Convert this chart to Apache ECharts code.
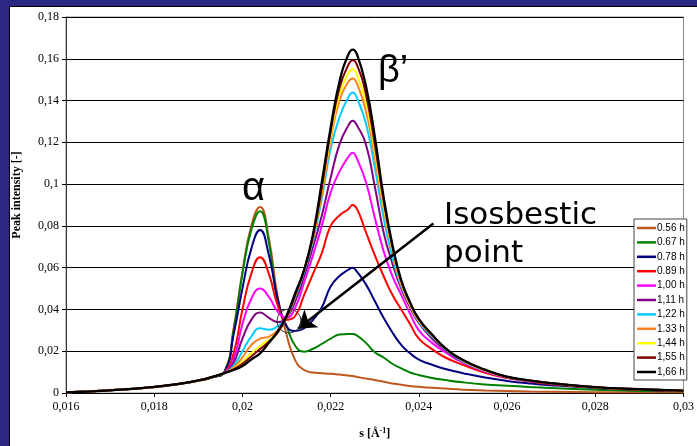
<!DOCTYPE html>
<html>
<head>
<meta charset="utf-8">
<script src="https://cdn.jsdelivr.net/npm/echarts@6.0.0/dist/echarts.min.js"></script>
<style>
  html, body { margin: 0; padding: 0; }
  body { width: 697px; height: 446px; background: #2b2783; position: relative; overflow: hidden; }
  #panel { position: absolute; left: 9px; top: 6px; width: 700px; height: 450px; background: #fff; border: 1.5px solid #000; }
  #main { position: absolute; left: 0; top: 0; width: 697px; height: 446px; }
</style>
</head>
<body>
<div id="panel"></div>
<div id="main"></div>
<script>
  // s values [1/A]
  var sValues = [0.016, 0.017, 0.018, 0.0186, 0.019, 0.0193, 0.0196, 0.0198, 0.02, 0.0202,
    0.0204, 0.0206, 0.0208, 0.021, 0.0212, 0.0214, 0.0216, 0.0218, 0.022, 0.0222,
    0.0224, 0.0225, 0.0226, 0.0228, 0.023, 0.0232, 0.0234, 0.0236, 0.0238, 0.024,
    0.0243, 0.0246, 0.025, 0.0255, 0.026, 0.0265, 0.027, 0.028, 0.029, 0.03];

  var names = ['0.56 h', '0.67 h', '0.78 h', '0.89 h', '1,00 h', '1,11 h', '1,22 h', '1.33 h', '1,44 h', '1,55 h', '1,66 h'];
  var colors = ['#bf581e', '#008000', '#000080', '#ff0000', '#ff00ff', '#800080', '#00ccff', '#ff8020', '#ffff00', '#800000', '#000000'];

  var h056 = [0.0003, 0.0013, 0.0028, 0.0044, 0.0058, 0.0073, 0.0105, 0.031, 0.058, 0.080,
    0.089, 0.074, 0.046, 0.028, 0.0155, 0.011, 0.0098, 0.0095, 0.0092, 0.0088,
    0.0084, 0.0081, 0.0077, 0.0069, 0.0062, 0.0054, 0.0046, 0.0039, 0.0034, 0.003,
    0.0025, 0.0021, 0.0016, 0.0012, 0.0009, 0.0007, 0.0006, 0.0004, 0.0003, 0.0003];
  var h067 = [0.0003, 0.0013, 0.0029, 0.0045, 0.0059, 0.0074, 0.0104, 0.030, 0.057, 0.078,
    0.087, 0.072, 0.043, 0.032, 0.0225, 0.0198, 0.0212, 0.0235, 0.026, 0.028,
    0.0283, 0.0282, 0.0275, 0.024, 0.0195, 0.017, 0.014, 0.0118, 0.0098, 0.0086,
    0.0072, 0.0062, 0.0051, 0.0041, 0.0035, 0.0029, 0.0024, 0.0016, 0.001, 0.0008];
  var h078 = [0.0003, 0.0013, 0.0029, 0.0045, 0.006, 0.0075, 0.0103, 0.028, 0.050, 0.069,
    0.078, 0.066, 0.045, 0.032, 0.0297, 0.031, 0.035, 0.041, 0.051, 0.056,
    0.059, 0.060, 0.058, 0.052, 0.044, 0.036, 0.029, 0.023, 0.019, 0.016,
    0.0135, 0.0115, 0.0095, 0.0074, 0.0058, 0.0046, 0.0037, 0.0024, 0.0015, 0.001];
  var h089 = [0.0003, 0.0013, 0.0029, 0.0045, 0.006, 0.0076, 0.0101, 0.019, 0.040, 0.057,
    0.065, 0.057, 0.042, 0.035, 0.037, 0.047, 0.057, 0.067, 0.080, 0.085,
    0.088, 0.090, 0.088, 0.077, 0.066, 0.056, 0.047, 0.040, 0.033, 0.026,
    0.021, 0.017, 0.0135, 0.0097, 0.0072, 0.0056, 0.0043, 0.0026, 0.0016, 0.001];
  var h100 = [0.0003, 0.0013, 0.0029, 0.0045, 0.006, 0.0076, 0.0099, 0.016, 0.033, 0.045,
    0.050, 0.046, 0.039, 0.036, 0.041, 0.053, 0.066, 0.080, 0.096, 0.106,
    0.113, 0.115, 0.112, 0.101, 0.084, 0.068, 0.056, 0.047, 0.038, 0.030,
    0.024, 0.0195, 0.0145, 0.0102, 0.0074, 0.0058, 0.0046, 0.0028, 0.0018, 0.0011];
  var h111 = [0.0003, 0.0013, 0.0029, 0.0045, 0.006, 0.0076, 0.0098, 0.0145, 0.026, 0.035,
    0.0385, 0.036, 0.034, 0.036, 0.044, 0.056, 0.070, 0.085, 0.103, 0.119,
    0.128, 0.1303, 0.128, 0.119, 0.099, 0.077, 0.062, 0.050, 0.041, 0.0335,
    0.026, 0.0205, 0.015, 0.0105, 0.0075, 0.0059, 0.0046, 0.0028, 0.0018, 0.0011];
  var h122 = [0.0003, 0.0013, 0.0029, 0.0045, 0.006, 0.0076, 0.0097, 0.013, 0.020, 0.027,
    0.031, 0.0303, 0.032, 0.036, 0.046, 0.058, 0.073, 0.093, 0.117, 0.132,
    0.1415, 0.1438, 0.141, 0.129, 0.108, 0.084, 0.065, 0.051, 0.042, 0.034,
    0.027, 0.021, 0.0152, 0.0107, 0.0076, 0.006, 0.0047, 0.0028, 0.0018, 0.0011];
  var h133 = [0.0003, 0.0013, 0.0029, 0.0045, 0.006, 0.0076, 0.0096, 0.0122, 0.017, 0.023,
    0.026, 0.027, 0.030, 0.036, 0.047, 0.059, 0.074, 0.095, 0.121, 0.140,
    0.149, 0.1506, 0.148, 0.135, 0.113, 0.088, 0.068, 0.052, 0.042, 0.0345,
    0.0275, 0.0212, 0.0155, 0.0108, 0.0077, 0.006, 0.0047, 0.0028, 0.0018, 0.0011];
  var h144 = [0.0003, 0.0013, 0.0029, 0.0045, 0.006, 0.0076, 0.0096, 0.0117, 0.015, 0.019,
    0.0225, 0.0255, 0.029, 0.036, 0.047, 0.059, 0.075, 0.097, 0.123, 0.143,
    0.153, 0.155, 0.152, 0.139, 0.116, 0.090, 0.069, 0.053, 0.0425, 0.035,
    0.0277, 0.0213, 0.0155, 0.0108, 0.0077, 0.006, 0.0047, 0.0028, 0.0018, 0.0011];
  var h155 = [0.0003, 0.0013, 0.0029, 0.0045, 0.006, 0.0076, 0.0096, 0.0114, 0.014, 0.0175,
    0.021, 0.0245, 0.029, 0.036, 0.047, 0.059, 0.075, 0.098, 0.125, 0.146,
    0.157, 0.1593, 0.157, 0.143, 0.119, 0.092, 0.070, 0.0535, 0.043, 0.0352,
    0.0278, 0.0214, 0.0157, 0.011, 0.0077, 0.006, 0.0047, 0.0028, 0.0018, 0.0011];
  var h166 = [0.0003, 0.0013, 0.0029, 0.0045, 0.006, 0.0076, 0.0096, 0.011, 0.0129, 0.016,
    0.019, 0.024, 0.0295, 0.037, 0.048, 0.059, 0.076, 0.101, 0.127, 0.149,
    0.162, 0.1644, 0.162, 0.147, 0.123, 0.094, 0.071, 0.054, 0.0435, 0.0355,
    0.028, 0.0215, 0.0158, 0.0112, 0.0078, 0.006, 0.0047, 0.0028, 0.0018, 0.0011];

  var seriesValues = [h056, h067, h078, h089, h100, h111, h122, h133, h144, h155, h166];

  // arrow of the "Isosbestic point" note, in data units
  var arrowFrom = [0.02433, 0.0811];
  var arrowTo = [0.02126, 0.0308];

  function commaNum(v) {
    return String(+v.toFixed(3)).replace('.', ',');
  }

  var chart = echarts.init(document.getElementById('main'));

  var series = seriesValues.map(function (vals, i) {
    var s = {
      name: names[i],
      type: 'line',
      smooth: 0.5,
      symbol: 'none',
      color: colors[i],
      lineStyle: { color: colors[i], width: i === 10 ? 2.3 : 2 },
      emphasis: { disabled: true },
      data: vals.map(function (v, j) { return [sValues[j], v]; })
    };
    if (i === 10) {
      s.markLine = {
        silent: true,
        symbol: ['none', 'arrow'],
        symbolSize: 17,
        label: { show: false },
        lineStyle: { color: '#000', width: 2.6, type: 'solid' },
        data: [[{ coord: arrowFrom }, { coord: arrowTo }]]
      };
    }
    return s;
  });

  chart.setOption({
    animation: false,
    backgroundColor: 'transparent',
    grid: {
      left: 66,
      right: 11,
      top: 17,
      bottom: 51,
      show: true,
      borderColor: '#8c8c8c',
      borderWidth: 1
    },
    legend: {
      orient: 'vertical',
      left: 634,
      top: 219,
      padding: [3, 2, 2, 3],
      icon: 'rect',
      itemWidth: 19,
      itemHeight: 2.5,
      itemGap: 2.4,
      backgroundColor: '#fff',
      borderColor: '#444',
      borderWidth: 1,
      borderRadius: 0,
      textStyle: { fontFamily: 'Liberation Sans', fontSize: 10, lineHeight: 12, color: '#000', padding: [0, 0, 0, -4] },
      data: names
    },
    xAxis: {
      type: 'value',
      min: 0.016,
      max: 0.03,
      interval: 0.002,
      name: 's [Å{sup|-1}]',
      nameLocation: 'middle',
      nameGap: 34,
      nameTextStyle: {
        fontFamily: 'Liberation Serif', fontWeight: 'bold', fontSize: 12, lineHeight: 14, color: '#000',
        rich: { sup: { fontFamily: 'Liberation Serif', fontWeight: 'bold', fontSize: 8, lineHeight: 14, verticalAlign: 'top', color: '#000' } }
      },
      axisLine: { show: true, lineStyle: { color: '#000', width: 1 } },
      axisTick: { show: true, inside: false, length: 4, lineStyle: { color: '#000' } },
      axisLabel: { margin: 8, fontFamily: 'Liberation Serif', fontSize: 12, color: '#000', formatter: commaNum, showMaxLabel: true, showMinLabel: true },
      splitLine: { show: false }
    },
    yAxis: {
      type: 'value',
      min: 0,
      max: 0.18,
      interval: 0.02,
      name: 'Peak intensity [-]',
      nameLocation: 'middle',
      nameGap: 43,
      nameTextStyle: { fontFamily: 'Liberation Serif', fontWeight: 'bold', fontSize: 12, color: '#000', padding: [0, 0, 0, 20] },
      axisLine: { show: true, lineStyle: { color: '#333', width: 1 } },
      axisTick: { show: true, inside: false, length: 4, lineStyle: { color: '#000' } },
      axisLabel: { margin: 7, fontFamily: 'Liberation Serif', fontSize: 12, color: '#000', formatter: commaNum },
      splitLine: { show: true, lineStyle: { color: '#000', width: 1 } }
    },
    graphic: [
      { type: 'text', left: 242, top: 169, silent: true, style: { text: 'α', fontFamily: 'Liberation Sans', fontSize: 40, fill: '#000' } },
      { type: 'text', left: 378, top: 53, silent: true, style: { text: 'β’', fontFamily: 'Liberation Sans', fontSize: 38, fill: '#000' } },
      { type: 'text', left: 444, top: 197, silent: true, style: { text: 'Isosbestic\npoint', fontFamily: 'DejaVu Sans', fontSize: 31, lineHeight: 38, fill: '#000' } },
      { type: 'circle', silent: true, shape: { cx: 289, cy: 321, r: 12 }, style: { fill: 'none', stroke: '#333', lineWidth: 1 }, z: 100 }
    ],
    series: series
  });
</script>
</body>
</html>
